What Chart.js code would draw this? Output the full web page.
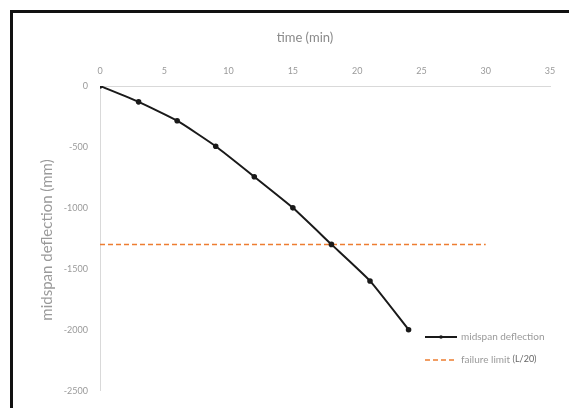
<!DOCTYPE html>
<html>
<head>
<meta charset="utf-8">
<script src="https://cdn.jsdelivr.net/npm/chart.js@4"></script>
<style>
  html, body { margin: 0; padding: 0; background: #fff; overflow: hidden; width: 569px; height: 408px; }
  #marcoIzq { position: absolute; left: 10px; top: 10px; width: 3px; height: 398px; background: #111; }
  #marcoSup { position: absolute; left: 10px; top: 10px; width: 559px; height: 3px; background: #111; }
  #contenedor { position: absolute; left: 0; top: 0; width: 569px; height: 408px; }
</style>
</head>
<body>
<div id="marcoIzq"></div>
<div id="marcoSup"></div>
<div id="contenedor"><canvas id="graficaFlecha"></canvas></div>
<script>
// Tiempo de exposición (min) y flecha en el centro del vano (mm)
var tiempos = [0, 3, 6, 9, 12, 15, 18, 21, 24];
var flechas = [0, -130, -285, -495, -745, -1000, -1300, -1600, -2000];

// Límite de fallo L/20, trazado de 0 a 30 min
var tiemposLimite = [0, 30];
var limiteFallo = -1300;

var ticksX = [0, 5, 10, 15, 20, 25, 30, 35];
var ticksY = [0, -500, -1000, -1500, -2000, -2500];

var grisTexto = '#9a9a9a';
var fuente = 'Lato, "Open Sans", sans-serif';

// Títulos de ejes y leyenda dibujados a mano
var rotulos = {
    id: 'rotulos',
    afterDraw: function (chart) {
        var ctx = chart.ctx;
        var area = chart.chartArea;
        ctx.save();
        ctx.fillStyle = '#8a8a8a';
        ctx.textAlign = 'center';
        ctx.textBaseline = 'middle';
        ctx.font = '13px ' + fuente;
        ctx.fillText('time (min)', 305, 38);

        ctx.translate(47, 240);
        ctx.rotate(-Math.PI / 2);
        ctx.fillStyle = '#9a9a9a';
        ctx.font = '15px ' + fuente;
        ctx.fillText('midspan deflection (mm)', 0, 0);
        ctx.restore();

        // leyenda
        ctx.save();
        var x0 = area.right - 125, x1 = area.right - 93;
        ctx.strokeStyle = '#1a1a1a';
        ctx.lineWidth = 2;
        ctx.beginPath(); ctx.moveTo(x0, 337); ctx.lineTo(x1, 337); ctx.stroke();
        ctx.fillStyle = '#1a1a1a';
        ctx.beginPath(); ctx.arc((x0 + x1) / 2, 337, 1.8, 0, Math.PI * 2); ctx.fill();

        ctx.strokeStyle = '#ed7d31';
        ctx.lineWidth = 1.5;
        ctx.setLineDash([5, 3]);
        ctx.beginPath(); ctx.moveTo(x0, 360); ctx.lineTo(x1, 360); ctx.stroke();
        ctx.setLineDash([]);

        ctx.fillStyle = grisTexto;
        ctx.textAlign = 'left';
        ctx.textBaseline = 'middle';
        ctx.font = '10px ' + fuente;
        ctx.fillText('midspan deflection', x1 + 4, 337);
        ctx.fillText('failure limit', x1 + 4, 360);
        var w = ctx.measureText('failure limit ').width;
        ctx.fillStyle = '#666';
        ctx.font = '9px ' + fuente;
        ctx.fillText('(L/20)', x1 + 4 + w, 359);
        ctx.restore();
    }
};

var ctx = document.getElementById('graficaFlecha').getContext('2d');

var graficaFlecha = new Chart(ctx, {
    type: 'line',
    data: {
        datasets: [{
            label: 'midspan deflection',
            data: tiempos.map(function (t, i) { return { x: t, y: flechas[i] }; }),
            borderColor: '#1a1a1a',
            backgroundColor: '#1a1a1a',
            borderWidth: 2,
            pointRadius: 1.8,
            pointHoverRadius: 1.8,
            tension: 0.15
        }, {
            label: 'failure limit (L/20)',
            data: tiemposLimite.map(function (t) { return { x: t, y: limiteFallo }; }),
            borderColor: '#ed7d31',
            borderWidth: 1.5,
            borderDash: [5, 3],
            pointRadius: 0
        }]
    },
    options: {
        responsive: true,
        maintainAspectRatio: false,
        animation: false,
        layout: { padding: { left: 30, top: 30, right: 19, bottom: 13 } },
        plugins: {
            legend: { display: false },
            tooltip: { enabled: false }
        },
        scales: {
            x: {
                type: 'linear',
                position: 'top',
                min: 0,
                max: 35,
                afterBuildTicks: function (eje) {
                    eje.ticks = ticksX.map(function (v) { return { value: v }; });
                },
                afterFit: function (eje) { eje.height = 56; },
                grid: { display: false, drawTicks: false },
                border: { display: true, color: '#d9d9d9', width: 1 },
                ticks: { color: grisTexto, font: { family: fuente, size: 9 }, padding: 10 }
            },
            y: {
                type: 'linear',
                min: -2500,
                max: 0,
                afterBuildTicks: function (eje) {
                    eje.ticks = ticksY.map(function (v) { return { value: v }; });
                },
                afterFit: function (eje) { eje.width = 70; },
                grid: { display: false, drawTicks: false },
                border: { display: true, color: '#d9d9d9', width: 1 },
                ticks: {
                    color: grisTexto,
                    font: { family: fuente, size: 9 },
                    padding: 12,
                    callback: function (v) { return String(v); }
                }
            }
        }
    },
    plugins: [rotulos]
});
</script>
</body>
</html>
